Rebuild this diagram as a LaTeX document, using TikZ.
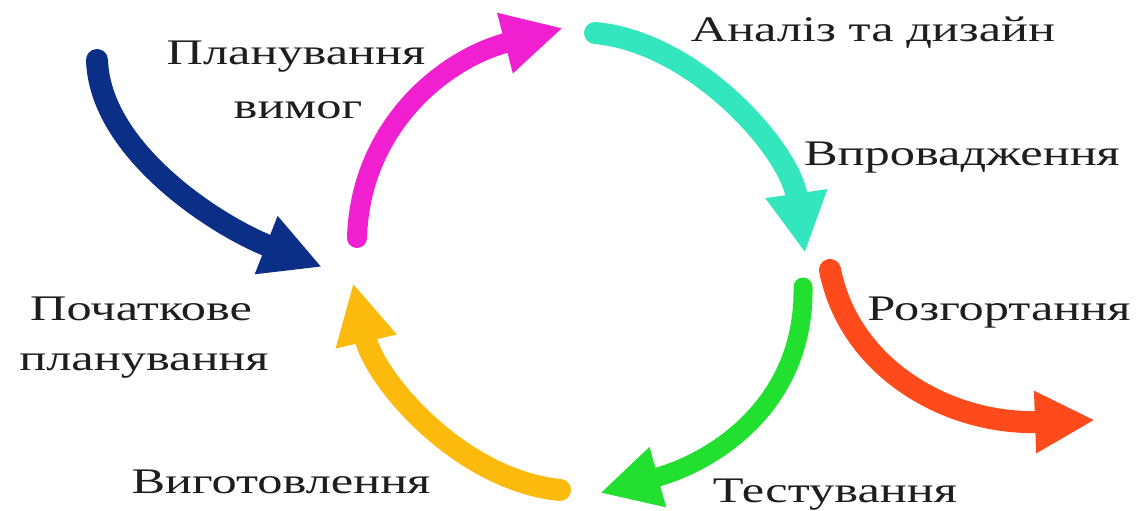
\documentclass[tikz,border=0pt]{standalone}
\usepackage{fontspec}
\setmainfont{Liberation Serif}[FakeStretch=1.4]
\usetikzlibrary{arrows.meta}
\definecolor{cnavy}{HTML}{0B2F87}
\definecolor{cmag}{HTML}{F01FD0}
\definecolor{cteal}{HTML}{33E6BE}
\definecolor{corange}{HTML}{FF4A1C}
\definecolor{cgreen}{HTML}{22E030}
\definecolor{camber}{HTML}{FBBA0C}
\definecolor{ctext}{HTML}{1E1E1E}
\tikzset{
  curvarrow/.style={line width=22pt, line cap=round, -{Triangle[length=60pt,width=58pt]}},
  lbl/.style={anchor=base, inner sep=0pt, text=ctext, font=\fontsize{36}{42}\selectfont}
}
\begin{document}
\begin{tikzpicture}[x=1pt,y=-1pt]
\useasboundingbox (0,0) rectangle (1138,511);
\fill[white] (0,0) rectangle (1138,511);
% named coordinates
\coordinate (b0) at (97,60);   \coordinate (b1) at (322,267);
\coordinate (m0) at (357,238); \coordinate (m1) at (563,28);
\coordinate (t0) at (595,33);  \coordinate (t1) at (805,253);
\coordinate (o0) at (830,270); \coordinate (o1) at (1095,420);
\coordinate (g0) at (803,287); \coordinate (g1) at (600,493);
\coordinate (y0) at (560,490); \coordinate (y1) at (353,283);
% arrows
\draw[curvarrow, cnavy] (b0) .. controls (100,150) and (215,225) .. (b1);
\draw[curvarrow, cmag, line width=20pt] (m0) .. controls (360,130) and (440,60) .. (m1);
\draw[curvarrow, cteal] (t0) .. controls (695,42) and (790,150) .. (t1);
\draw[curvarrow, corange] (o0) .. controls (850,370) and (950,425) .. (o1);
\draw[curvarrow, cgreen, line width=19pt] (g0) .. controls (805,400) and (720,460) .. (g1);
\draw[curvarrow, camber] (y0) .. controls (460,480) and (375,380) .. (y1);
% labels
\node[lbl] (lplan) at (296,65) {Планування};
\node[lbl] (lvym) at (298,118) {вимог};
\node[lbl] (lanal) at (873,42) {Аналіз та дизайн};
\node[lbl] (lvpr) at (962,165) {Впровадження};
\node[lbl] (lroz) at (999,320) {Розгортання};
\node[lbl] (ltest) at (835,502) {Тестування};
\node[lbl] (lvyg) at (281,493) {Виготовлення};
\node[lbl] (lpoch) at (141,320) {Початкове};
\node[lbl] (lplan2) at (144,370) {планування};
\end{tikzpicture}
\end{document}
